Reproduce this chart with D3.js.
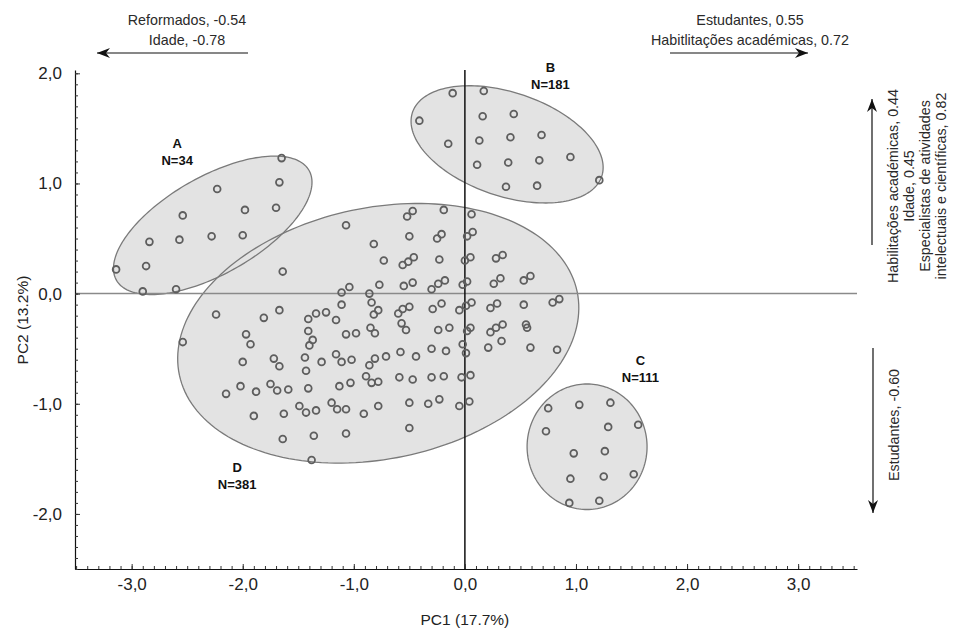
<!DOCTYPE html>
<html>
<head>
<meta charset="utf-8">
<script src="https://cdn.jsdelivr.net/npm/d3@7"></script>
<style>
  body { margin: 0; background: #fff; }
  svg { display: block; font-family: Arial, "Liberation Sans", sans-serif; }
</style>
</head>
<body>
<svg id="chart" width="954" height="632"></svg>
<script>
// PCA scores (PC1, PC2) for each cluster
const pointsA = [
  [-1.65, 1.23], [-1.67, 1.01], [-1.70, 0.78], [-2.23, 0.95], [-1.98, 0.76],
  [-2.54, 0.71], [-2.00, 0.53], [-2.28, 0.52], [-2.57, 0.49], [-2.84, 0.47],
  [-2.87, 0.25], [-3.14, 0.22], [-2.90, 0.02], [-2.60, 0.04]
];
const pointsB = [
  [-0.11, 1.82], [0.17, 1.84], [-0.41, 1.57], [0.16, 1.61], [0.44, 1.63],
  [-0.15, 1.36], [0.13, 1.39], [0.41, 1.42], [0.69, 1.44], [0.11, 1.17],
  [0.39, 1.19], [0.67, 1.21], [0.95, 1.24], [0.37, 0.97], [0.65, 0.98], [1.21, 1.03]
];
const pointsC = [
  [0.75, -1.04], [1.03, -1.01], [1.31, -0.99], [0.73, -1.25], [1.29, -1.21],
  [1.56, -1.19], [0.98, -1.45], [1.26, -1.43], [0.95, -1.68], [1.25, -1.66],
  [1.52, -1.64], [0.94, -1.90], [1.21, -1.88]
];
const pointsD = [
  [-1.07, 0.62], [-0.82, 0.45], [-1.64, 0.20], [-1.04, 0.06], [-1.11, 0.01],
  [-0.86, 0.00], [-0.77, 0.08], [-1.11, -0.10], [-0.84, -0.08], [-0.82, -0.19],
  [-2.24, -0.19], [-1.81, -0.22], [-1.67, -0.15], [-1.41, -0.23], [-1.34, -0.18],
  [-1.25, -0.17], [-1.16, -0.24], [-1.41, -0.34], [-1.07, -0.37], [-0.98, -0.36],
  [-0.85, -0.31], [-1.97, -0.37], [-0.81, -0.36], [-0.78, -0.15],
  [-0.52, 0.70], [-0.47, 0.75], [-0.19, 0.76], [0.06, 0.72],
  [-0.50, 0.52], [-0.25, 0.50], [-0.21, 0.54], [0.02, 0.52], [0.07, 0.56],
  [-0.73, 0.30], [-0.56, 0.26], [-0.51, 0.29], [-0.46, 0.33], [-0.23, 0.31],
  [0.00, 0.30], [0.05, 0.33], [0.28, 0.32], [0.34, 0.35],
  [-0.55, 0.07], [-0.47, 0.10], [-0.30, 0.04], [-0.24, 0.09], [-0.18, 0.12],
  [-0.02, 0.08], [0.02, 0.11], [0.26, 0.09], [0.32, 0.14], [0.53, 0.12], [0.59, 0.16],
  [0.79, -0.08], [0.85, -0.05],
  [-0.60, -0.18], [-0.56, -0.14], [-0.50, -0.12], [-0.29, -0.14], [-0.21, -0.09],
  [-0.05, -0.15], [0.01, -0.11], [0.06, -0.08], [0.23, -0.13], [0.29, -0.09], [0.53, -0.10],
  [-0.57, -0.27], [-0.53, -0.33], [-0.24, -0.33], [-0.14, -0.31], [0.02, -0.34],
  [0.05, -0.31], [0.23, -0.35], [0.28, -0.31], [0.34, -0.28], [0.55, -0.28], [0.56, -0.31],
  [-2.54, -0.44], [-1.93, -0.46], [-1.37, -0.42], [-1.40, -0.47],
  [-2.00, -0.62], [-1.72, -0.59], [-1.67, -0.66], [-1.44, -0.58], [-1.29, -0.62],
  [-1.16, -0.55], [-1.11, -0.62], [-1.02, -0.60], [-0.86, -0.65], [-0.81, -0.59], [-1.43, -0.70],
  [-2.15, -0.91], [-2.02, -0.84], [-1.88, -0.89], [-1.75, -0.82], [-1.69, -0.88],
  [-1.59, -0.87], [-1.41, -0.86], [-1.13, -0.84], [-1.03, -0.81], [-0.89, -0.75],
  [-0.84, -0.81], [-0.78, -0.80],
  [-1.90, -1.11], [-1.63, -1.09], [-1.49, -1.02], [-1.43, -1.08], [-1.34, -1.06],
  [-1.20, -0.99], [-1.15, -1.05], [-1.07, -1.05], [-0.91, -1.09], [-0.78, -1.02],
  [-1.64, -1.32], [-1.36, -1.29], [-1.07, -1.27], [-1.38, -1.51],
  [-0.71, -0.57], [-0.58, -0.53], [-0.44, -0.57], [-0.30, -0.50], [-0.17, -0.52],
  [-0.02, -0.46], [0.01, -0.54], [0.21, -0.49], [0.33, -0.43], [0.59, -0.49], [0.83, -0.51],
  [-0.59, -0.76], [-0.47, -0.78], [-0.30, -0.76], [-0.19, -0.75], [-0.03, -0.76], [0.05, -0.74],
  [-0.50, -0.99], [-0.33, -1.00], [-0.23, -0.96], [-0.05, -1.02], [0.04, -0.98],
  [-0.50, -1.22]
];

// Cluster names, sizes and confidence ellipses (centre, semi-axes, rotation in degrees)
const clusterNames = ["A", "B", "C", "D"];
const clusterSizes = [34, 181, 111, 381];
const ellipseCenters = [[-2.27, 0.62], [0.38, 1.355], [1.10, -1.39], [-0.78, -0.36]];
const ellipseAxes = [[1.00, 0.44], [0.90, 0.47], [0.54, 0.57], [1.83, 1.14]];
const ellipseAngles = [30, -19, 0, 12];
const clusterPoints = [pointsA, pointsB, pointsC, pointsD];

// Axis ticks
const xMajorTicks = [-3, -2, -1, 0, 1, 2, 3];
const yMajorTicks = [-2, -1, 0, 1, 2];

// Variable loadings shown beside the axes
const loadLeft = ["Reformados, -0.54", "Idade, -0.78"];
const loadRight = ["Estudantes, 0.55", "Habitlitações académicas, 0.72"];
const loadUp = ["Habilitações académicas, 0.44", "Idade, 0.45",
                "Especialistas de atividades", "intelectuais e científicas, 0.82"];
const loadDown = ["Estudantes, -0.60"];

const svg = d3.select("#chart");
const plotLeft = 75, plotRight = 857, plotTop = 70, plotBottom = 569;

const x = d3.scaleLinear().domain([-3.51, 3.53]).range([plotLeft, plotRight]);
const y = d3.scaleLinear().domain([-2.5, 2.03]).range([plotBottom, plotTop]);

const fmt = d => (d < 0 ? "-" : "") + Math.abs(d).toFixed(1).replace(".", ",");

// Ellipse outline in data space, projected through the scales
function ellipsePath(i) {
  const [cx, cy] = ellipseCenters[i];
  const [a, b] = ellipseAxes[i];
  const r = ellipseAngles[i] * Math.PI / 180;
  const pts = d3.range(0, 360, 2).map(deg => {
    const t = deg * Math.PI / 180;
    const dx = a * Math.cos(t), dy = b * Math.sin(t);
    return [x(cx + dx * Math.cos(r) - dy * Math.sin(r)),
            y(cy + dx * Math.sin(r) + dy * Math.cos(r))];
  });
  return d3.line().curve(d3.curveLinearClosed)(pts);
}

const idx = d3.range(clusterNames.length);

// Fills first, then outlines, so overlapping outlines stay visible
svg.append("g").selectAll("path").data(idx).join("path")
  .attr("d", ellipsePath).attr("fill", "#e3e3e3").attr("stroke", "none");
svg.append("g").selectAll("path").data(idx).join("path")
  .attr("d", ellipsePath).attr("fill", "none").attr("stroke", "#7a7a7a").attr("stroke-width", 1.3);

// Zero reference lines
svg.append("line")
  .attr("x1", plotLeft).attr("x2", plotRight).attr("y1", y(0)).attr("y2", y(0))
  .attr("stroke", "#8a8a8a").attr("stroke-width", 1.5);
svg.append("line")
  .attr("x1", x(0)).attr("x2", x(0)).attr("y1", plotTop).attr("y2", plotBottom)
  .attr("stroke", "#111").attr("stroke-width", 1.5);

// Axes: minor ticks every 0.1, major ticks with labels at integers
const xMinor = d3.range(-35, 36).map(i => i / 10);
const yMinor = d3.range(-25, 21).map(i => i / 10);

const gx = svg.append("g").attr("transform", `translate(0,${plotBottom})`);
gx.call(d3.axisBottom(x).tickValues(xMinor).tickSize(-3).tickSizeOuter(0).tickFormat(""));
const gx2 = svg.append("g").attr("transform", `translate(0,${plotBottom})`);
gx2.call(d3.axisBottom(x).tickValues(xMajorTicks).tickSize(-5).tickSizeOuter(0).tickPadding(9).tickFormat(fmt));
gx2.select(".domain").remove();

const gy = svg.append("g").attr("transform", `translate(${plotLeft},0)`);
gy.call(d3.axisLeft(y).tickValues(yMinor).tickSize(-3).tickSizeOuter(0).tickFormat(""));
const gy2 = svg.append("g").attr("transform", `translate(${plotLeft},0)`);
gy2.call(d3.axisLeft(y).tickValues(yMajorTicks).tickSize(-5).tickSizeOuter(0).tickPadding(13).tickFormat(fmt));
gy2.select(".domain").remove();

svg.selectAll(".domain").attr("stroke", "#111").attr("stroke-width", 1.2);
svg.selectAll(".tick line").attr("stroke", "#333");
svg.selectAll(".tick text").attr("font-size", 17).attr("fill", "#222")
  .attr("font-family", "Arial, 'Liberation Sans', sans-serif");

// Axis titles
svg.append("text").attr("x", x(0)).attr("y", 625).attr("text-anchor", "middle")
  .attr("font-size", 15.5).attr("fill", "#222").text("PC1 (17.7%)");
svg.append("text").attr("transform", `translate(28,${y(-0.24)}) rotate(-90)`)
  .attr("text-anchor", "middle").attr("font-size", 15.5).attr("fill", "#222").text("PC2 (13.2%)");

// Observations
clusterPoints.forEach(pts => {
  svg.append("g").selectAll("circle").data(pts).join("circle")
    .attr("cx", d => x(d[0])).attr("cy", d => y(d[1])).attr("r", 3.4)
    .attr("fill", "none").attr("stroke", "#5e5e5e").attr("stroke-width", 1.8);
});

// Cluster labels
const labelAt = [[-2.59, 1.36], [0.77, 2.05], [1.58, -0.61], [-2.05, -1.58]];
idx.forEach(i => {
  const t = svg.append("text").attr("text-anchor", "middle").attr("font-size", 13)
    .attr("font-weight", "bold").attr("fill", "#111");
  t.append("tspan").attr("x", x(labelAt[i][0])).attr("y", y(labelAt[i][1]) + 4.5).text(clusterNames[i]);
  t.append("tspan").attr("x", x(labelAt[i][0])).attr("dy", 16.5).text("N=" + clusterSizes[i]);
});

// Loading arrows
const defs = svg.append("defs");
defs.append("marker").attr("id", "head").attr("viewBox", "-14 -6 16 12")
  .attr("refX", 0).attr("refY", 0).attr("markerWidth", 16).attr("markerHeight", 12)
  .attr("markerUnits", "userSpaceOnUse").attr("orient", "auto")
  .append("path").attr("d", "M0,0 L-13,-5 L-9,0 L-13,5 Z").attr("fill", "#111");

function arrow(x1, y1, x2, y2) {
  svg.append("line").attr("x1", x1).attr("y1", y1).attr("x2", x2).attr("y2", y2)
    .attr("stroke", "#111").attr("stroke-width", 1.2).attr("marker-end", "url(#head)");
}
arrow(248, 53, 97, 53);
arrow(670, 53, 808, 53);
arrow(872, 245, 872, 99);
arrow(873, 348, 873, 513);

function textBlock(lines, cx, firstY) {
  lines.forEach((s, i) => {
    svg.append("text").attr("x", cx).attr("y", firstY + i * 19.5).attr("text-anchor", "middle")
      .attr("font-size", 14.3).attr("fill", "#2a2a2a").text(s);
  });
}
textBlock(loadLeft, 187, 25);
textBlock(loadRight, 750, 25);

function verticalBlock(lines, firstX, cy) {
  lines.forEach((s, i) => {
    svg.append("text").attr("transform", `translate(${firstX + i * 16},${cy}) rotate(-90)`)
      .attr("text-anchor", "middle").attr("font-size", 14.3).attr("fill", "#2a2a2a").text(s);
  });
}
verticalBlock(loadUp, 898, 186);
verticalBlock(loadDown, 899, 425);
</script>
</body>
</html>
